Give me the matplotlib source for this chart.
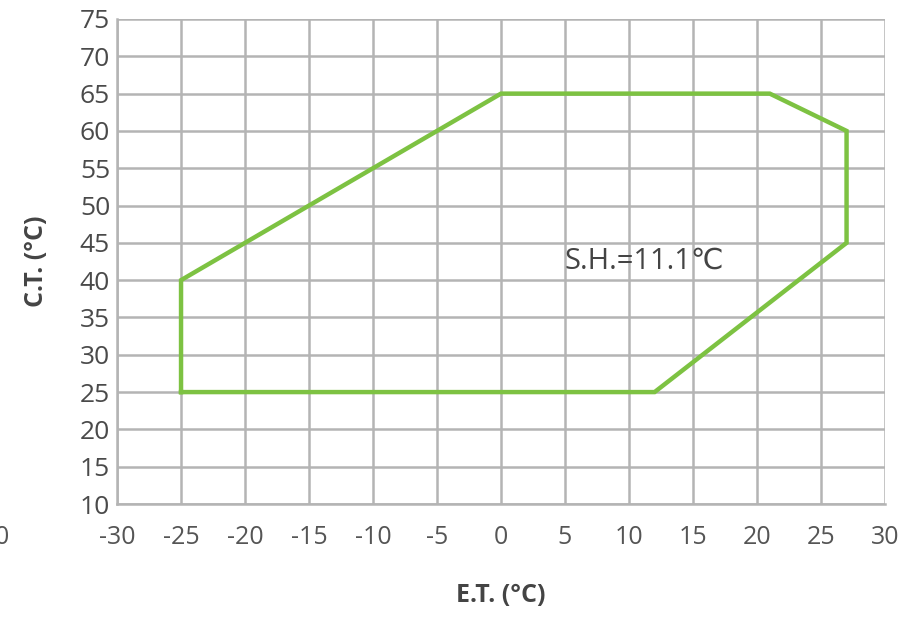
import matplotlib.pyplot as plt

# operating envelope corners (E.T., C.T.)
et = [-25, -25, 0, 21, 27, 27, 12, -25]
ct = [25, 40, 65, 65, 60, 45, 25, 25]

x_ticks = list(range(-30, 31, 5))
y_ticks = list(range(10, 76, 5))

plt.rcParams['font.family'] = ['Open Sans', 'DejaVu Sans']
plt.rcParams['axes.unicode_minus'] = False

fig = plt.figure(figsize=(9.18, 6.25), dpi=100)
ax = fig.add_axes([0.1275, 0.1936, 0.8365, 0.776])

ax.plot(et, ct, color='#7dc242', linewidth=3.2, solid_joinstyle='miter', zorder=3)

ax.set_xlim(-30, 30)
ax.set_ylim(10, 75)
ax.set_xticks(x_ticks)
ax.set_yticks(y_ticks)
ax.grid(True, color='#b4b4b4', linewidth=1.8)
ax.set_axisbelow(True)

for s in ['top', 'right']:
    ax.spines[s].set_visible(False)
for s in ['left', 'bottom']:
    ax.spines[s].set_color('#b4b4b4')
    ax.spines[s].set_linewidth(1.8)

ax.tick_params(axis='x', length=0, pad=15, labelsize=18, labelcolor='#555555')
ax.tick_params(axis='y', length=0, pad=5, labelsize=19, labelcolor='#4a4a4a')
for lbl in ax.get_yticklabels():
    lbl.set_fontweight('medium')

ax.text(5, 42.5, "S.H.=11.1℃", fontsize=21, color='#444444', va='center', ha='left',
        family=['Open Sans', 'DejaVu Sans'])

ax.set_xlabel("E.T. (°C)", fontsize=18, fontweight='bold', color='#444444', labelpad=24)
ax.set_ylabel("C.T. (°C)", fontsize=18, fontweight='bold', color='#444444', labelpad=22)

# stray clipped label at the left edge
fig.text(-0.006, 0.14, "0", fontsize=18, color='#555555', ha='left', va='center')

fig.savefig("out.png", dpi=100)
